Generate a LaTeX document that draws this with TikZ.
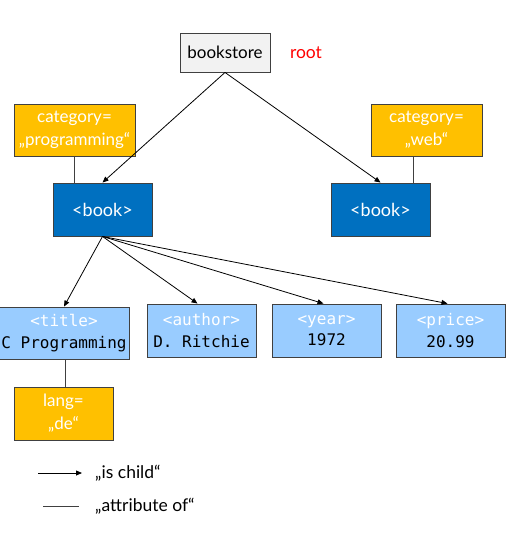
\documentclass[tikz,border=0pt]{standalone}
\usepackage{fontspec}
\setmainfont{Lato}
\setmonofont{DejaVu Sans Mono}
\usetikzlibrary{arrows.meta,calc}
\definecolor{bordc}{HTML}{404040}
\definecolor{rootgrey}{HTML}{F2F2F2}
\definecolor{attrgold}{HTML}{FFC000}
\definecolor{bookblue}{HTML}{0070C0}
\definecolor{elemblue}{HTML}{99CCFF}
\definecolor{rootred}{HTML}{FF0000}
\tikzset{
  box/.style={draw=bordc, line width=0.9pt, rectangle, inner sep=0pt, align=center},
  rootbox/.style={box, fill=rootgrey, minimum width=90pt, minimum height=39pt, font=\fontsize{17}{20}\selectfont},
  attrbox/.style={box, fill=attrgold, text=white, minimum height=52pt, font=\fontsize{17}{23}\selectfont},
  bookbox/.style={box, fill=bookblue, text=white, minimum width=99pt, minimum height=53pt, font=\fontsize{18}{20}\selectfont},
  elembox/.style={box, fill=elemblue, minimum width=109pt, minimum height=53pt, font=\ttfamily\fontsize{16}{21.5}\selectfont},
  child/.style={draw=black, line width=0.8pt, -{Triangle[length=6pt,width=5pt]}},
  attrline/.style={draw=bordc, line width=0.9pt},
  legend/.style={anchor=west, inner sep=0pt, font=\fontsize{17.5}{20}\selectfont}
}
\newcommand{\tagtext}[1]{\textcolor{white}{#1}}
\begin{document}
\begin{tikzpicture}[x=1pt,y=-1pt]
\useasboundingbox (0,0) rectangle (532,535);
\node[rootbox] (bs) at (225,52.5) {bookstore};
\node[text=rootred, font=\fontsize{17.5}{20}\selectfont] (root) at (306,52.5) {root};
\node[attrbox, minimum width=121pt] (catP) at (74.5,130) {category=\\„programming“};
\node[attrbox, minimum width=111pt] (catW) at (426.5,130) {category=\\„web“};
\node[bookbox] (bookL) at (102.5,209.5) {<book>};
\node[bookbox] (bookR) at (380.5,209.5) {<book>};
\node[elembox, minimum width=130pt, minimum height=52pt] (title) at (64,333) {\tagtext{<title>}\\C Programming};
\node[elembox] (author) at (201.5,330.5) {\tagtext{<author>}\\D. Ritchie};
\node[elembox] (year) at (326.5,330.5) {\tagtext{<year>}\\1972};
\node[elembox] (price) at (450.5,330.5) {\tagtext{<price>}\\20.99};
\node[attrbox, minimum width=99pt, minimum height=53pt] (lang) at (63.5,413.5) {lang=\\„de“};
% child arrows
\draw[child] (bs.south) -- (bookL.north);
\draw[child] (bs.south) -- (bookR.north);
\draw[child] (bookL.south) -- (title.north);
\draw[child] (bookL.south) -- ([xshift=-4pt]author.north);
\draw[child] (bookL.south) -- ([xshift=-3pt]year.north);
\draw[child] (bookL.south) -- ([xshift=-3pt]price.north);
% attribute lines
\draw[attrline] ([xshift=-0.5pt]catP.south) -- ([xshift=-0.5pt]catP.south |- bookL.north);
\draw[attrline] ([xshift=-13.5pt]catW.south) -- ([xshift=-13.5pt]catW.south |- bookR.north);
\draw[attrline] ([xshift=2pt]lang.north) -- ([xshift=2pt]lang.north |- title.south);
% legend
\coordinate (la1) at (38,473);
\coordinate (la2) at (82,473);
\coordinate (lb1) at (43,506);
\coordinate (lb2) at (79,506);
\draw[child] (la1) -- (la2);
\draw[attrline] (lb1) -- (lb2);
\node[legend] (lega) at (95,473) {„is child“};
\node[legend] (legb) at (95,506) {„attribute of“};
\end{tikzpicture}
\end{document}
